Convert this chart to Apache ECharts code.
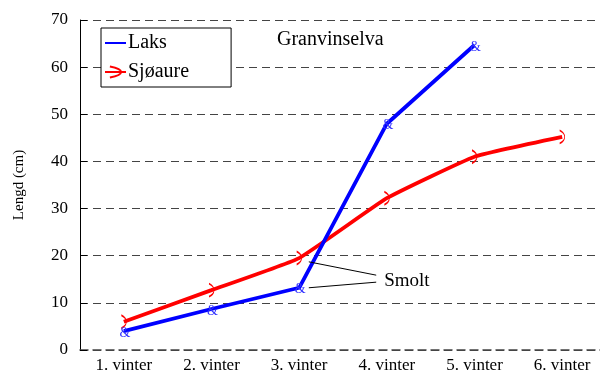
<!DOCTYPE html>
<html>
<head>
<meta charset="utf-8">
<script src="https://cdn.jsdelivr.net/npm/echarts@6/dist/echarts.min.js"></script>
<style>html,body{margin:0;padding:0;background:#fff}#c{width:600px;height:374px}</style>
</head>
<body>
<div id="c"></div>
<script>
// Winters (age classes) along the x axis
const categories = ['1. vinter', '2. vinter', '3. vinter', '4. vinter', '5. vinter', '6. vinter'];
// Mean length (cm) per winter
const laks = [4.0, 8.7, 13.2, 48.0, 64.7, null];
const sjoaure = [6.0, 12.7, 19.5, 32.2, 41.0, 45.2];
// Smolt note: text anchor and the two leader-line ends, in [category index, cm]
const smoltText = [2.97, 14.6];
const smoltEnds = [[2.11, 18.7], [2.11, 13.2]];

const serif = '"Liberation Serif", "Times New Roman", serif';
const chart = echarts.init(document.getElementById('c'));

const option = {
  animation: false,
  backgroundColor: '#fff',
  textStyle: { fontFamily: serif },
  grid: { left: 80, width: 526, top: 20, bottom: 24, outerBoundsMode: 'none', containLabel: false },
  title: {
    text: 'Granvinselva', left: 277, top: 30, padding: 0,
    textStyle: { fontFamily: serif, fontSize: 20, fontWeight: 'normal', color: '#000' }
  },
  legend: {
    left: 101, top: 28, orient: 'vertical',
    backgroundColor: '#fff', borderColor: '#000', borderWidth: 1,
    padding: [5, 42, 5, 3], itemGap: 9, itemWidth: 21, itemHeight: 14,
    textStyle: { fontFamily: serif, fontSize: 20, color: '#000', padding: [0, 0, 0, -3] },
    data: [
      { name: 'Laks', itemStyle: { color: 'rgba(0,0,0,0)', borderWidth: 0 } },
      { name: 'Sjøaure' }
    ]
  },
  xAxis: {
    type: 'category', data: categories, boundaryGap: true,
    axisLine: { show: true, lineStyle: { color: '#444', width: 1.5, type: [8, 5] } },
    axisTick: { show: false },
    axisLabel: { fontFamily: serif, fontSize: 17, color: '#000', margin: 7 }
  },
  yAxis: {
    type: 'value', min: 0, max: 70, interval: 10,
    name: 'Lengd (cm)', nameLocation: 'middle', nameGap: 53, nameRotate: 90,
    nameTextStyle: { fontFamily: serif, fontSize: 15, color: '#000' },
    axisLine: { show: true, lineStyle: { color: '#000', width: 1 } },
    axisTick: { show: true, inside: true, length: 7, lineStyle: { color: '#000' } },
    axisLabel: { fontFamily: serif, fontSize: 17, color: '#000', margin: 12 },
    splitLine: { show: true, lineStyle: { color: '#444', width: 1, type: [8, 5] } }
  },
  series: [
    {
      name: 'Laks', type: 'line', data: laks, z: 3,
      symbol: 'circle', symbolSize: 1,
      itemStyle: { color: '#0000ff' },
      lineStyle: { color: '#0000ff', width: 3.8 },
      label: {
        show: true, position: 'inside', formatter: '&', offset: [1, 2],
        fontFamily: serif, fontSize: 14, color: '#3333ff'
      }
    },
    {
      name: 'Sjøaure', type: 'line', data: sjoaure, z: 2, smooth: 0.12,
      symbol: 'path://M0,0 C5,4 5,12 0,16', symbolSize: [5, 13],
      itemStyle: { color: 'rgba(0,0,0,0)', borderColor: '#ff0000', borderWidth: 1.2 },
      lineStyle: { color: '#ff0000', width: 3.8 }
    }
  ]
};
chart.setOption(option);

// Category positions with a fractional part: step between category centres
function toPixel(pt) {
  const i = Math.floor(pt[0]);
  const a = chart.convertToPixel({ gridIndex: 0 }, [i, pt[1]]);
  const b = chart.convertToPixel({ gridIndex: 0 }, [i + 1, pt[1]]);
  return [a[0] + (pt[0] - i) * (b[0] - a[0]), a[1]];
}

// Smolt annotation: text plus two leader lines placed through the axes
const tp = toPixel(smoltText);
const graphics = [{
  type: 'text', x: tp[0], y: tp[1],
  style: { text: 'Smolt', font: '19px ' + serif, fill: '#000', textVerticalAlign: 'middle' }, z: 10
}];
smoltEnds.forEach(function (e, i) {
  const p = toPixel(e);
  graphics.push({
    type: 'line', z: 10,
    shape: { x1: tp[0] - 8, y1: tp[1] + (i === 0 ? -6 : 1), x2: p[0], y2: p[1] },
    style: { stroke: '#000', lineWidth: 1 }
  });
});
chart.setOption({ graphic: graphics });
</script>
</body>
</html>
